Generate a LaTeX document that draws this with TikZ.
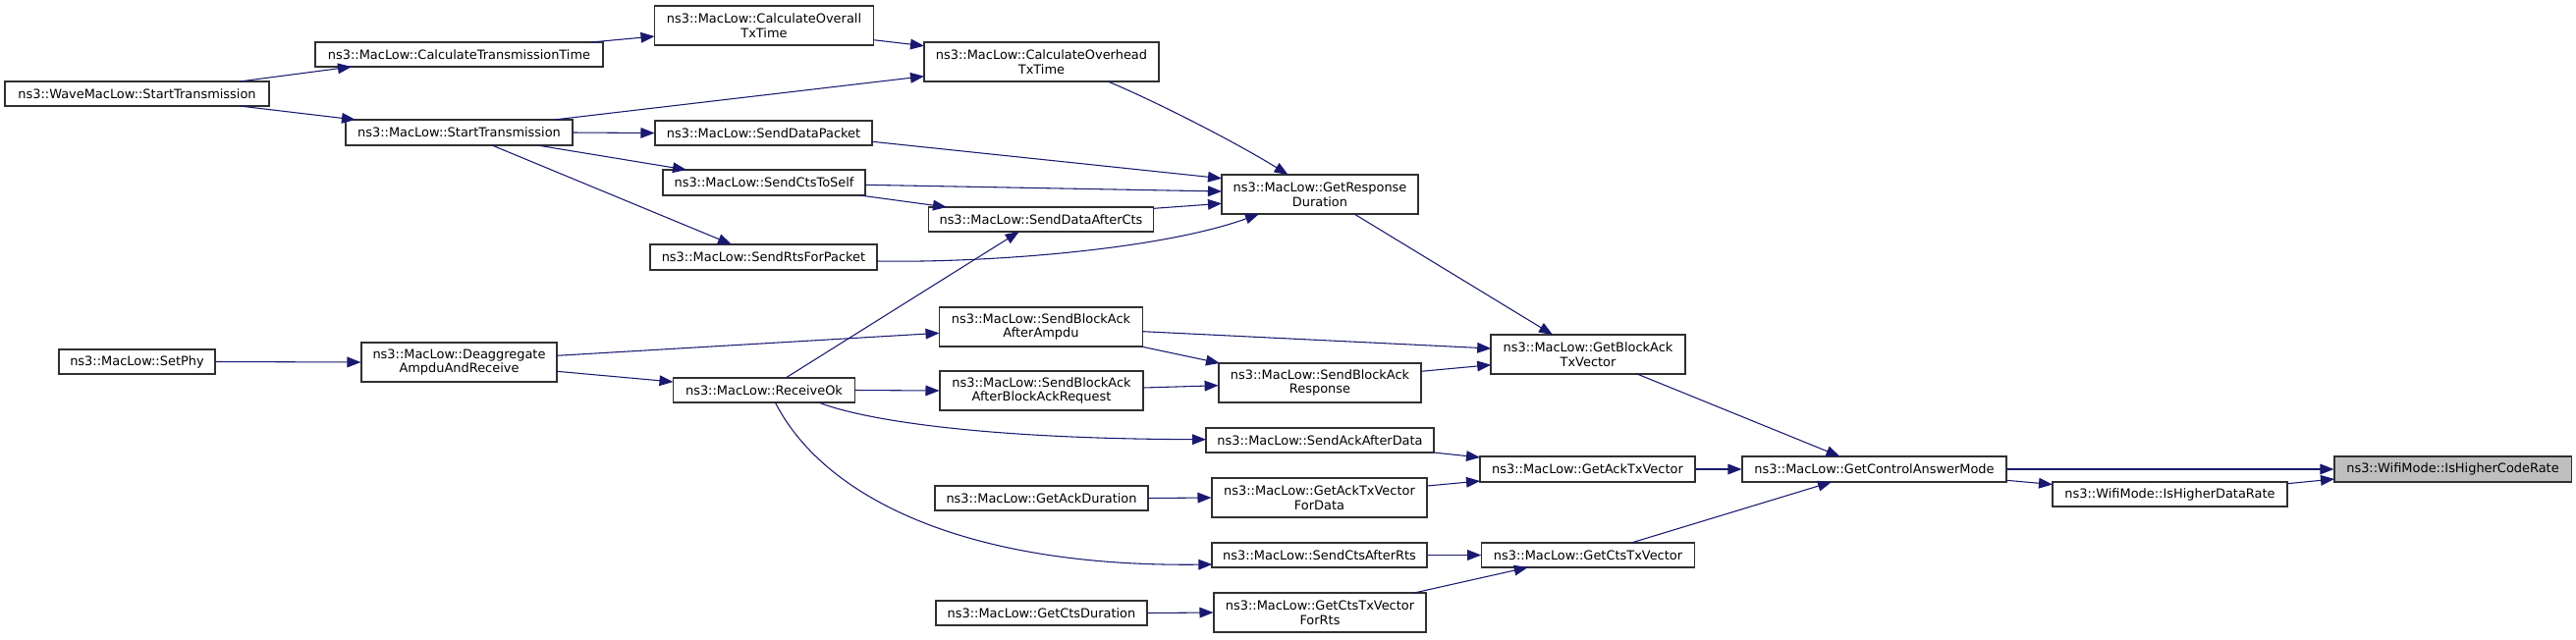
\documentclass[tikz,border=0pt]{standalone}
\usepackage{fontspec}
\setmainfont{DejaVu Sans}
\usetikzlibrary{arrows.meta}
\definecolor{edgec}{HTML}{191970}
\definecolor{nodeb}{HTML}{303030}
\definecolor{hl}{HTML}{BFBFBF}
\begin{document}
\begin{tikzpicture}[x=0.75pt,y=-0.75pt,
  fn/.style={draw=nodeb, fill=white, line width=0.8pt, inner sep=0pt, align=center,
             font=\fontsize{9.7pt}{11pt}\selectfont},
  sz/.style 2 args={minimum width=#1*0.75pt, minimum height=#2*0.75pt},
  edge/.style={draw=edgec, line width=0.8pt, -{Triangle[length=10.5pt,width=8pt]}}]
\fill[white] (0,0) rectangle (2623,651);
\useasboundingbox (0,0) rectangle (2623,651);
% nodes
\node[fn, sz={269}{25}] (wst) at (139.5,95.5) {ns3::WaveMacLow::StartTransmission};
\node[fn, sz={293}{25}] (ctt) at (467.5,55.5) {ns3::MacLow::CalculateTransmissionTime};
\node[fn, sz={231}{26}] (mst) at (467.5,135) {ns3::MacLow::StartTransmission};
\node[fn, sz={223}{40}] (cot) at (778,26) {ns3::MacLow::CalculateOverall\\TxTime};
\node[fn, sz={239}{40}] (coh) at (1060.5,63) {ns3::MacLow::CalculateOverhead\\TxTime};
\node[fn, sz={221}{25}] (sdp) at (777.5,135.5) {ns3::MacLow::SendDataPacket};
\node[fn, sz={206}{26}] (scs) at (778,186) {ns3::MacLow::SendCtsToSelf};
\node[fn, sz={229}{25}] (sdc) at (1060,223.5) {ns3::MacLow::SendDataAfterCts};
\node[fn, sz={231}{26}] (srp) at (777.5,262) {ns3::MacLow::SendRtsForPacket};
\node[fn, sz={200}{40}] (grd) at (1344,198) {ns3::MacLow::GetResponse\\Duration};
\node[fn, sz={207}{40}] (sba) at (1060,333) {ns3::MacLow::SendBlockAck\\AfterAmpdu};
\node[fn, sz={159}{25}] (phy) at (139.5,368.5) {ns3::MacLow::SetPhy};
\node[fn, sz={199}{40}] (dar) at (467.5,369) {ns3::MacLow::Deaggregate\\AmpduAndReceive};
\node[fn, sz={185}{25}] (rok) at (778,397.5) {ns3::MacLow::ReceiveOk};
\node[fn, sz={207}{40}] (sbr) at (1060.5,398) {ns3::MacLow::SendBlockAck\\AfterBlockAckRequest};
\node[fn, sz={217}{25}] (gad) at (1060.5,507.5) {ns3::MacLow::GetAckDuration};
\node[fn, sz={215}{25}] (gcd) at (1060.5,624.5) {ns3::MacLow::GetCtsDuration};
\node[fn, sz={206}{40}] (sbk) at (1344,390) {ns3::MacLow::SendBlockAck\\Response};
\node[fn, sz={232}{25}] (sad) at (1344,448.5) {ns3::MacLow::SendAckAfterData};
\node[fn, sz={219}{40}] (gaf) at (1343.5,507) {ns3::MacLow::GetAckTxVector\\ForData};
\node[fn, sz={219}{25}] (scr) at (1343.5,565.5) {ns3::MacLow::SendCtsAfterRts};
\node[fn, sz={216}{40}] (gcf) at (1344,624) {ns3::MacLow::GetCtsTxVector\\ForRts};
\node[fn, sz={198}{40}] (gbt) at (1617,361) {ns3::MacLow::GetBlockAck\\TxVector};
\node[fn, sz={219}{26}] (gat) at (1616.5,478) {ns3::MacLow::GetAckTxVector};
\node[fn, sz={216.5}{25}] (gct) at (1617,565.5) {ns3::MacLow::GetCtsTxVector};
\node[fn, sz={269}{26}] (gcm) at (1908.5,478) {ns3::MacLow::GetControlAnswerMode};
\node[fn, sz={239}{25}] (ihd) at (2209.5,503.5) {ns3::WifiMode::IsHigherDataRate};
\node[fn, sz={241}{26}, fill=hl] (ihc) at (2497.5,478) {ns3::WifiMode::IsHigherCodeRate};
% edges
\draw[edge] ([shift={(104.5,-12.5)}]wst.center) -- ([shift={(-109.5,12.5)}]ctt.center);
\draw[edge] ([shift={(104.5,12.5)}]wst.center) -- ([shift={(-105.5,-13)}]mst.center);
\draw[edge] ([shift={(134.5,-12.5)}]ctt.center) -- ([shift={(-111.5,11)}]cot.center);
\draw[edge] ([shift={(111.5,14.7)}]cot.center) -- ([shift={(-119.5,-16.3)}]coh.center);
\draw[edge] ([shift={(96.5,-13)}]mst.center) -- ([shift={(-119.5,14.7)}]coh.center);
\draw[edge] (mst.east) -- (sdp.west);
\draw[edge] ([shift={(79.5,13)}]mst.center) -- ([shift={(-79,-13)}]scs.center);
\draw[edge] ([shift={(33.5,13)}]mst.center) -- ([shift={(-32.5,-13)}]srp.center);
\draw[edge] ([shift={(67.5,20)}]coh.center) .. controls (1165,98) and (1250,140) .. ([shift={(-32.4,-20)}]grd.center);
\draw[edge] ([shift={(110.8,8.8)}]sdp.center) -- ([shift={(-100,-16.3)}]grd.center);
\draw[edge] ([shift={(103,2.3)}]scs.center) -- ([shift={(-100,-3)}]grd.center);
\draw[edge] ([shift={(97.7,13)}]scs.center) -- ([shift={(-96,-12.5)}]sdc.center);
\draw[edge] ([shift={(115,-11.2)}]sdc.center) -- ([shift={(-100,9.3)}]grd.center);
\draw[edge] ([shift={(115.5,4)}]srp.center) .. controls (1000,268) and (1180,255) .. ([shift={(-62,20)}]grd.center);
\draw[edge] ([shift={(22,-12.5)}]rok.center) -- ([shift={(-22.3,12.5)}]sdc.center);
\draw[edge] ([shift={(99.5,-6.7)}]dar.center) -- ([shift={(-103.5,6.3)}]sba.center);
\draw[edge] ([shift={(99.5,9.3)}]dar.center) -- ([shift={(-92.5,-8.5)}]rok.center);
\draw[edge] (phy.east) -- (dar.west);
\draw[edge] (rok.east) -- (sbr.west);
\draw[edge] ([shift={(55.6,12.5)}]rok.center) .. controls (880,428) and (1000,447) .. ([shift={(-116,-0.8)}]sad.center);
\draw[edge] ([shift={(11.4,12.5)}]rok.center) .. controls (835,500) and (970,578) .. ([shift={(-109.2,9.5)}]scr.center);
\draw[edge] ([shift={(104,4.7)}]sba.center) -- ([shift={(-98.8,-6)}]gbt.center);
\draw[edge] ([shift={(101.9,20)}]sba.center) -- ([shift={(-102,-20)}]sbk.center);
\draw[edge] ([shift={(103.5,-3)}]sbr.center) -- ([shift={(-103.4,2.7)}]sbk.center);
\draw[edge] ([shift={(103,-11.7)}]sbk.center) -- ([shift={(-98.8,10.7)}]gbt.center);
\draw[edge] ([shift={(35,20)}]grd.center) -- ([shift={(-36,-20)}]gbt.center);
\draw[edge] ([shift={(116,12.5)}]sad.center) -- ([shift={(-109.5,-12)}]gat.center);
\draw[edge] ([shift={(109.5,-12)}]gaf.center) -- ([shift={(-109.5,12)}]gat.center);
\draw[edge] (gad.east) -- (gaf.west);
\draw[edge] (scr.east) -- (gct.west);
\draw[edge] ([shift={(96,-20)}]gcf.center) -- ([shift={(-61.3,12.5)}]gct.center);
\draw[edge] (gcd.east) -- (gcf.west);
\draw[edge] ([shift={(50,20)}]gbt.center) -- ([shift={(-35,-13)}]gcm.center);
\draw[edge] (gat.east) -- (gcm.west);
\draw[edge] ([shift={(44,-12.5)}]gct.center) -- ([shift={(-43.5,13)}]gcm.center);
\draw[edge] (gcm.east) -- (ihc.west);
\draw[edge] ([shift={(134.5,11.3)}]gcm.center) -- ([shift={(-119.5,-10)}]ihd.center);
\draw[edge] ([shift={(119.5,-10.8)}]ihd.center) -- ([shift={(-120.5,10)}]ihc.center);
\end{tikzpicture}
\end{document}
